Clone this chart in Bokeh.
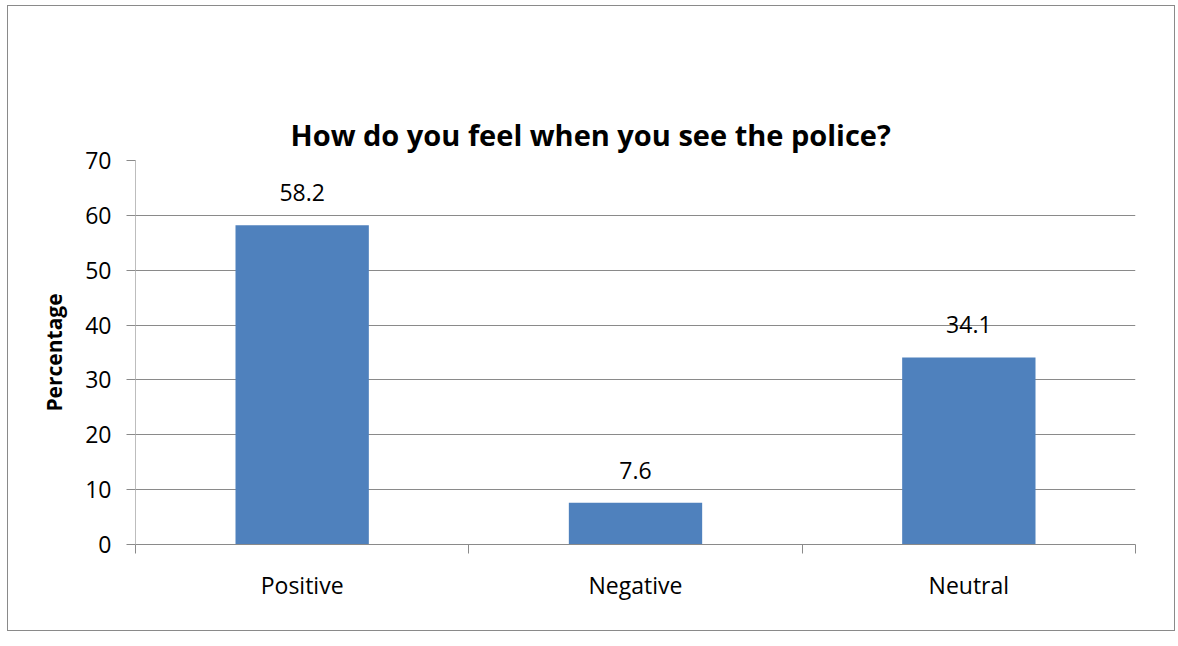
from bokeh.plotting import figure
from bokeh.models import ColumnDataSource, FixedTicker, LabelSet, Range1d, Title, LinearAxis
from bokeh.core.properties import value
from bokeh.embed import file_html
from bokeh.resources import INLINE

categories = ["Positive", "Negative", "Neutral"]
values = [58.2, 7.6, 34.1]
y_ticks = [0, 10, 20, 30, 40, 50, 60, 70]
title_text = "How do you feel when you see the police?"
y_label = "Percentage"

FONT = "Open Sans"
positions = [i + 0.5 for i in range(len(categories))]
source = ColumnDataSource(dict(
    x=positions, top=values, cat=categories,
    label=[f"{v:.1f}" for v in values],
))

W, H = 1168, 626
p = figure(width=W, height=H, output_backend="svg", toolbar_location=None,
           x_range=Range1d(0, len(categories)), y_range=Range1d(0, 70),
           min_border_left=127, min_border_right=41, min_border_top=154, min_border_bottom=88)
p.styles = {"border": "1px solid #8a8a8a", "margin-left": "7px", "margin-top": "5px"}
p.outline_line_color = None
p.background_fill_color = "white"
p.border_fill_color = "white"

# empty spacer axis above the frame (no ticks drawn), which lifts the title up
spacer = LinearAxis(ticker=FixedTicker(ticks=[], minor_ticks=[]), axis_line_color=None,
                    major_tick_line_color="white", minor_tick_line_color=None,
                    major_tick_out=82, major_tick_in=0, minor_tick_out=0, minor_tick_in=0)
p.add_layout(spacer, "above")

p.title = Title(text=title_text, align="left", offset=155, vertical_align="top",
                standoff=10, text_font=FONT, text_font_size="29px",
                text_font_style="bold", text_color="black")

p.vbar(x="x", top="top", width=0.4, bottom=0, source=source,
       fill_color="#4f81bd", line_color=None)

# y axis
p.yaxis.ticker = FixedTicker(ticks=y_ticks, minor_ticks=[])
p.yaxis.axis_line_color = "#bdbdbd"
p.yaxis.major_tick_line_color = "#8a8a8a"
p.yaxis.major_tick_out = 9
p.yaxis.major_tick_in = 0
p.yaxis.major_label_standoff = 15
p.yaxis.major_label_text_font = FONT
p.yaxis.major_label_text_font_size = "23px"
p.yaxis.major_label_text_color = "black"
p.yaxis.axis_label = y_label
p.yaxis.axis_label_standoff = 14
p.yaxis.axis_label_text_font = FONT
p.yaxis.axis_label_text_font_size = "21px"
p.yaxis.axis_label_text_font_style = "bold"
p.yaxis.axis_label_text_color = "black"

# x axis (p.below holds the category axis)
xax = p.below[0]
xax.ticker = FixedTicker(ticks=positions, minor_ticks=list(range(len(categories) + 1)))
xax.major_label_overrides = {pos: c for pos, c in zip(positions, categories)}
xax.axis_line_color = "#8a8a8a"
xax.major_tick_line_color = None
xax.major_tick_out = 0
xax.major_tick_in = 0
xax.minor_tick_line_color = "#8a8a8a"
xax.minor_tick_out = 9
xax.minor_tick_in = 0
xax.major_label_standoff = 15
xax.major_label_text_font = FONT
xax.major_label_text_font_size = "23px"
xax.major_label_text_color = "black"

p.xgrid.grid_line_color = None
p.ygrid.ticker = FixedTicker(ticks=y_ticks[1:])
p.ygrid.grid_line_color = "#8a8a8a"
p.ygrid.grid_line_width = 1

labels = LabelSet(x="x", y="top", text="label", source=source, text_align="center",
                  text_baseline="bottom", y_offset=24, text_font=value(FONT),
                  text_font_size=value("23px"), text_color="black")
p.add_layout(labels)

open("out.html", "w").write(file_html(p, INLINE))
